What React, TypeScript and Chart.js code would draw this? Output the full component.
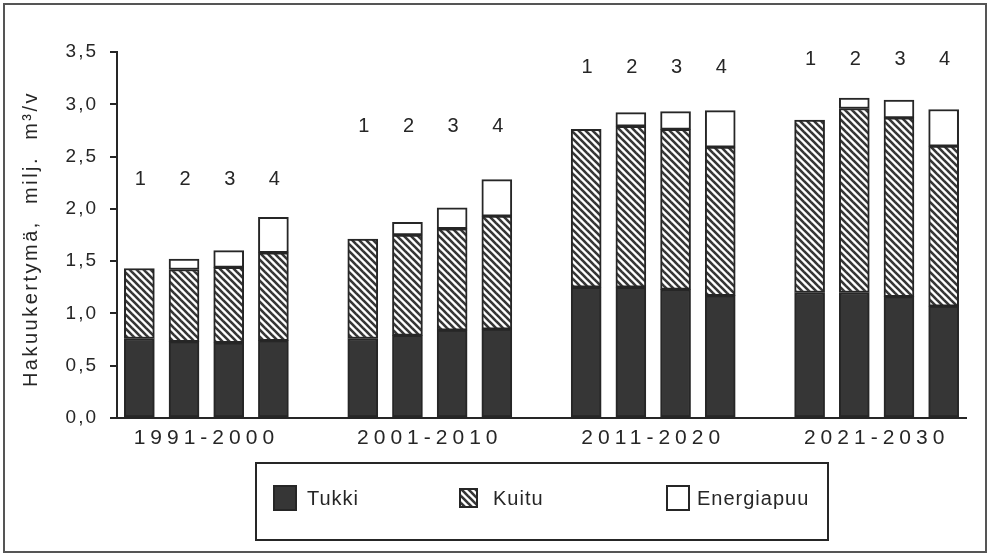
import React, { useEffect, useRef } from "react";
import { Chart, registerables } from "chart.js";

Chart.register(...registerables);

const periods = ["1991-2000", "2001-2010", "2011-2020", "2021-2030"];
const scenarios = ["1", "2", "3", "4"];
const seriesNames = ["Tukki", "Kuitu", "Energiapuu"];
// values per bar: period-major, scenario-minor (milj. m3/v)
const tukki = [0.76, 0.73, 0.72, 0.74, 0.76, 0.79, 0.84, 0.85, 1.25, 1.25, 1.23, 1.17, 1.2, 1.2, 1.16, 1.07];
const kuitu = [0.67, 0.69, 0.72, 0.84, 0.95, 0.96, 0.97, 1.08, 1.51, 1.54, 1.53, 1.42, 1.65, 1.76, 1.71, 1.53];
const energiapuu = [0, 0.1, 0.16, 0.34, 0, 0.12, 0.2, 0.35, 0, 0.13, 0.17, 0.35, 0, 0.1, 0.17, 0.35];
const scenarioLabelLevel = [2.28, 2.79, 3.35, 3.43];
const yMax = 3.5;
const yStep = 0.5;
const yTitle = "Hakuukertymä,  milj.  m³/v";

const INK = "#262626";
const DARK = "#363636";
const FONT = "'Liberation Sans', Arial, sans-serif";

const slotOf = (i: number) => Math.floor(i / scenarios.length) * (scenarios.length + 1) + (i % scenarios.length);
const lastSlot = slotOf(periods.length * scenarios.length - 1);

function makeHatch(ctx: CanvasRenderingContext2D): CanvasPattern | string {
  const s = 7;
  const c = document.createElement("canvas");
  c.width = s;
  c.height = s;
  const g = c.getContext("2d")!;
  g.fillStyle = "#ffffff";
  g.fillRect(0, 0, s, s);
  g.strokeStyle = DARK;
  g.lineWidth = 2.6;
  for (const k of [-s, 0, s]) {
    g.beginPath();
    g.moveTo(k - 1, -1);
    g.lineTo(k + s + 1, s + 1);
    g.stroke();
  }
  return ctx.createPattern(c, "repeat") || DARK;
}

export default function App() {
  const ref = useRef<HTMLCanvasElement | null>(null);

  useEffect(() => {
    const canvas = ref.current!;
    const ctx0 = canvas.getContext("2d")!;
    const hatch = makeHatch(ctx0);
    const toPts = (arr: number[]) => arr.map((v, i) => ({ x: slotOf(i), y: v === 0 ? null : v }));

    const decor = {
      id: "decor",
      beforeDraw(chart: any) {
        (chart.ctx as any).letterSpacing = "2px";
      },
      afterDraw(chart: any) {
        const ctx: CanvasRenderingContext2D = chart.ctx;
        const xs = chart.scales.x;
        const ys = chart.scales.y;
        ctx.save();
        (ctx as any).letterSpacing = "0px";
        // frame
        ctx.strokeStyle = "#555";
        ctx.lineWidth = 2;
        ctx.strokeRect(4, 4, 982, 548);

        // y title
        ctx.save();
        ctx.translate(31, 239);
        ctx.rotate(-Math.PI / 2);
        ctx.fillStyle = INK;
        ctx.font = `20px ${FONT}`;
        (ctx as any).letterSpacing = "2.5px";
        ctx.textAlign = "center";
        ctx.textBaseline = "middle";
        ctx.fillText(yTitle, 0, 0);
        ctx.restore();

        // period labels
        ctx.fillStyle = INK;
        ctx.font = `21px ${FONT}`;
        (ctx as any).letterSpacing = "5px";
        ctx.textAlign = "center";
        ctx.textBaseline = "middle";
        periods.forEach((p, g) => {
          const cx = xs.getPixelForValue(g * (scenarios.length + 1) + (scenarios.length - 1) / 2);
          ctx.fillText(p, cx, 438);
        });

        // scenario numbers
        ctx.font = `20px ${FONT}`;
        (ctx as any).letterSpacing = "0px";
        periods.forEach((_, g) => {
          scenarios.forEach((s, k) => {
            const x = xs.getPixelForValue(slotOf(g * scenarios.length + k));
            ctx.fillText(s, x + 1, ys.getPixelForValue(scenarioLabelLevel[g]));
          });
        });

        // legend
        ctx.strokeStyle = INK;
        ctx.lineWidth = 2;
        ctx.strokeRect(256, 463, 572, 77);
        const items = [
          { fill: DARK, x: 274, w: 22, h: 24, tx: 307 },
          { fill: hatch, x: 460, w: 17, h: 18, tx: 493 },
          { fill: "#ffffff", x: 667, w: 22, h: 24, tx: 697 },
        ];
        ctx.font = `20px ${FONT}`;
        (ctx as any).letterSpacing = "1px";
        ctx.textAlign = "left";
        items.forEach((it, i) => {
          const cy = 498;
          ctx.fillStyle = it.fill as any;
          ctx.fillRect(it.x, cy - it.h / 2, it.w, it.h);
          ctx.strokeRect(it.x, cy - it.h / 2, it.w, it.h);
          ctx.fillStyle = INK;
          ctx.fillText(seriesNames[i], it.tx, cy + 1);
        });
        ctx.restore();
      },
    };

    const chart = new Chart(canvas, {
      type: "bar",
      data: {
        datasets: [
          { label: seriesNames[0], data: toPts(tukki) as any, backgroundColor: DARK, borderColor: INK, borderWidth: 2, borderSkipped: false },
          { label: seriesNames[1], data: toPts(kuitu) as any, backgroundColor: hatch as any, borderColor: INK, borderWidth: 2, borderSkipped: false },
          { label: seriesNames[2], data: toPts(energiapuu) as any, backgroundColor: "#ffffff", borderColor: INK, borderWidth: 2, borderSkipped: false },
        ],
      },
      options: {
        responsive: false,
        devicePixelRatio: 1,
        animation: false,
        events: [],
        layout: { padding: { left: 0, top: 52, right: 23, bottom: 0 } },
        datasets: { bar: { barThickness: 30 } } as any,
        plugins: { legend: { display: false }, tooltip: { enabled: false }, title: { display: false } },
        scales: {
          x: {
            type: "linear",
            stacked: true,
            offset: false,
            min: -0.5,
            max: lastSlot + 0.5,
            grid: { display: false },
            border: { display: true, color: INK, width: 2 },
            ticks: { display: false },
            afterFit: (s: any) => { s.height = 137; },
          },
          y: {
            stacked: true,
            min: 0,
            max: yMax,
            grid: { drawOnChartArea: false, drawTicks: true, tickLength: 7, color: INK, lineWidth: 2 },
            border: { display: true, color: INK, width: 2 },
            ticks: {
              stepSize: yStep,
              padding: 12,
              color: INK,
              font: { family: FONT, size: 19 },
              callback: (v: any) => Number(v).toFixed(1).replace(".", ","),
            },
            afterFit: (s: any) => { s.width = 117; },
          },
        },
      },
      plugins: [decor],
    });
    return () => chart.destroy();
  }, []);

  return (
    <div style={{ position: "fixed", left: 0, top: 0, width: 989, height: 555, background: "#fff" }}>
      <canvas ref={ref} width={989} height={555} style={{ display: "block", width: 989, height: 555 }} />
    </div>
  );
}
